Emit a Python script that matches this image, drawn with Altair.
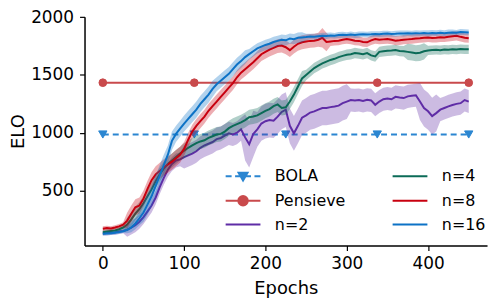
import altair as alt
import pandas as pd

# ---------------- data ----------------
epochs = list(range(0, 455, 5))

n16_mean = [125, 128, 130, 135, 140, 148, 160, 180, 215, 260,
            310, 380, 450, 540, 630, 720, 810, 930, 990, 1035,
            1080, 1120, 1160, 1200, 1250, 1290, 1330, 1380, 1420, 1450,
            1480, 1510, 1550, 1590, 1620, 1655, 1680, 1705, 1730, 1745,
            1760, 1770, 1785, 1795, 1805, 1800, 1815, 1810, 1822, 1825,
            1828, 1832, 1830, 1836, 1840, 1838, 1842, 1840, 1845, 1848,
            1846, 1850, 1845, 1850, 1853, 1850, 1852, 1855, 1853, 1856,
            1858, 1855, 1857, 1860, 1858, 1861, 1858, 1862, 1860, 1863,
            1860, 1864, 1862, 1865, 1862, 1866, 1868, 1865, 1872, 1870,
            1868]
n16_band = [15, 15, 15, 15, 15, 15, 30, 40, 50, 60,
            80, 90, 90, 90, 90, 90, 80, 80, 70, 70,
            70, 70, 70, 70, 70, 70, 70, 70, 60, 60,
            60, 60, 60, 60, 60, 60, 45, 45, 45, 45,
            45, 45, 45, 45, 45, 45, 45, 45, 45, 45,
            28, 25, 26, 24, 25, 27, 25, 24, 26, 25,
            24, 26, 25, 27, 24, 25, 26, 24, 25, 26,
            25, 24, 26, 25, 27, 24, 25, 26, 25, 24,
            26, 25, 24, 26, 25, 27, 25, 24, 26, 25,
            25]

n8_mean = [170, 175, 172, 180, 190, 205, 240, 300, 355, 370,
           430, 515, 590, 640, 670, 700, 725, 750, 780, 810,
           860, 940, 1010, 1060, 1100, 1140, 1190, 1230, 1270, 1310,
           1350, 1390, 1430, 1480, 1520, 1550, 1580, 1610, 1645, 1680,
           1700, 1720, 1735, 1750, 1755, 1740, 1715, 1745, 1770, 1783,
           1790, 1795, 1797, 1805, 1822, 1785, 1790, 1795, 1797, 1805,
           1811, 1805, 1797, 1795, 1785, 1783, 1800, 1811, 1805, 1808,
           1811, 1805, 1797, 1800, 1805, 1808, 1811, 1815, 1818, 1822,
           1825, 1820, 1822, 1826, 1825, 1830, 1835, 1839, 1830, 1822,
           1818]
n8_band = [20, 20, 20, 20, 20, 20, 70, 70, 70, 70,
           70, 70, 70, 70, 70, 70, 70, 70, 70, 70,
           60, 60, 60, 60, 60, 60, 60, 60, 60, 60,
           60, 60, 60, 60, 60, 60, 60, 60, 60, 60,
           60, 60, 60, 60, 60, 60, 60, 60, 60, 60,
           60, 60, 60, 60, 85, 80, 40, 40, 40, 40,
           40, 40, 40, 40, 40, 40, 40, 40, 40, 40,
           40, 40, 40, 40, 40, 40, 40, 40, 40, 40,
           40, 40, 40, 40, 40, 40, 40, 40, 40, 40,
           40]

n4_mean = [140, 145, 150, 155, 165, 180, 205, 250, 300, 340,
           390, 450, 510, 580, 640, 690, 730, 760, 790, 820,
           845, 870, 890, 910, 925, 935, 955, 970, 985, 990,
           1010, 1040, 1060, 1075, 1090, 1110, 1135, 1140, 1150, 1170,
           1190, 1205, 1230, 1245, 1215, 1220, 1270, 1330, 1400, 1470,
           1500, 1530, 1560, 1580, 1600, 1615, 1630, 1640, 1655, 1665,
           1675, 1680, 1690, 1685, 1680, 1690, 1670, 1660, 1700, 1705,
           1710, 1712, 1716, 1708, 1705, 1700, 1695, 1688, 1692, 1705,
           1712, 1716, 1718, 1715, 1720, 1718, 1722, 1720, 1724, 1722,
           1722]
n4_band = [20, 20, 20, 20, 20, 20, 60, 60, 60, 60,
           60, 60, 60, 60, 60, 60, 60, 60, 60, 60,
           65, 65, 65, 65, 65, 65, 65, 65, 65, 65,
           65, 65, 65, 65, 65, 65, 65, 65, 65, 65,
           65, 65, 65, 65, 65, 65, 65, 65, 65, 65,
           45, 45, 45, 45, 45, 45, 45, 45, 45, 45,
           45, 45, 45, 45, 45, 45, 45, 45, 45, 45,
           45, 45, 45, 45, 45, 70, 70, 70, 70, 70,
           40, 40, 40, 40, 40, 40, 40, 40, 40, 40,
           40]

n2_mean = [130, 132, 135, 138, 145, 150, 160, 180, 200, 230,
           270, 320, 370, 440, 530, 610, 680, 730, 760, 770,
           790, 805, 820, 840, 870, 890, 905, 920, 945, 955,
           975, 995, 985, 1000, 1030, 960, 900, 990, 1030, 1080,
           1100, 1110, 1105, 1140, 1180, 1200, 1060, 995, 1060, 1130,
           1150, 1175, 1185, 1200, 1214, 1214, 1222, 1228, 1235, 1256,
           1270, 1283, 1280, 1283, 1275, 1285, 1280, 1242, 1270, 1290,
           1297, 1290, 1311, 1305, 1300, 1315, 1320, 1325, 1270, 1214,
           1186, 1144, 1170, 1200, 1214, 1228, 1240, 1250, 1256, 1283,
           1270]
n2_band = [20, 20, 20, 20, 20, 20, 60, 60, 60, 60,
           60, 60, 60, 60, 60, 60, 60, 60, 60, 60,
           100, 100, 100, 100, 100, 100, 100, 100, 100, 100,
           100, 100, 100, 100, 100, 200, 200, 200, 150, 150,
           150, 150, 150, 150, 150, 150, 150, 150, 150, 150,
           150, 150, 150, 150, 150, 150, 150, 150, 150, 150,
           150, 100, 100, 100, 100, 100, 100, 100, 100, 100,
           100, 100, 100, 100, 100, 100, 100, 100, 160, 160,
           160, 160, 160, 100, 100, 100, 100, 100, 100, 100,
           100]

baseline_epochs = [0, 112.5, 225, 337.5, 450]
bola_elo = [985, 985, 985, 985, 985]
pensieve_elo = [1433, 1433, 1433, 1433, 1433]

# legend order (filled column by column, 2 columns) and colours
legend_order = ["BOLA", "Pensieve", "n=2", "n=4", "n=8", "n=16"]
legend_colors = ["#2b86d1", "#c94a4c", "#5f2ca6", "#0b6b57", "#c8000f", "#0c72c6"]
legend_paths = [
    "M-3.5,0H-2.3M-1.6,0H-0.6M0.6,0H1.6M2.3,0H3.5M-0.9,-0.7L0.9,-0.7L0,0.85Z",
    "M-3.5,0H3.5M-0.95,0A0.95,0.95 0 1,0 0.95,0A0.95,0.95 0 1,0 -0.95,0Z",
    "M-3.5,0H3.5",
    "M-3.5,0H3.5",
    "M-3.5,0H3.5",
    "M-3.5,0H3.5",
]

# ---------------- tables ----------------
curves = {"n=2": (n2_mean, n2_band), "n=4": (n4_mean, n4_band),
          "n=8": (n8_mean, n8_band), "n=16": (n16_mean, n16_band)}
rows = []
for name, (m, b) in curves.items():
    for e, v, w in zip(epochs, m, b):
        rows.append({"epoch": e, "series": name, "elo": v, "lo": v - w, "hi": v + w})
curve_df = pd.DataFrame(rows)

base_rows = []
for e, v in zip(baseline_epochs, bola_elo):
    base_rows.append({"epoch": e, "series": "BOLA", "elo": v})
for e, v in zip(baseline_epochs, pensieve_elo):
    base_rows.append({"epoch": e, "series": "Pensieve", "elo": v})
base_df = pd.DataFrame(base_rows)

# ---------------- scales / axes ----------------
fill_scale = alt.Scale(domain=legend_order, range=legend_colors)
stroke_scale = alt.Scale(domain=legend_order, range=legend_colors)
shape_scale = alt.Scale(domain=legend_order, range=legend_paths)

x_enc = alt.X("epoch:Q", scale=alt.Scale(domain=[-22.5, 472.5], nice=False, zero=False),
              axis=alt.Axis(title="Epochs", values=[0, 100, 200, 300, 400]))
y_axis = alt.Axis(title="ELO", values=[500, 1000, 1500, 2000], format="d")
y_scale = alt.Scale(domain=[25, 2003], nice=False, zero=False)

legend_obj = alt.Legend(
    title=None, orient="none", legendX=142, legendY=152, columns=2,
    columnPadding=43, rowPadding=7, symbolSize=100, symbolStrokeWidth=2,
    symbolOpacity=1, symbolOffset=9.5, labelOffset=24, labelFontSize=16,
    labelFont="DejaVu Sans", labelColor="black", padding=0, labelLimit=300,
)

base = alt.Chart(base_df)
layers = []

# legend-only layer (no visible marks); first so that its legend wins the merge
layers.append(base.transform_filter("datum.epoch < 0").mark_point(
    filled=True, opacity=1).encode(
    x=x_enc, y=alt.Y("elo:Q", scale=y_scale, axis=y_axis),
    fill=alt.Fill("series:N", scale=fill_scale, legend=legend_obj),
    stroke=alt.Stroke("series:N", scale=stroke_scale, legend=legend_obj),
    shape=alt.Shape("series:N", scale=shape_scale, legend=legend_obj)))

layers.append(base.transform_filter("datum.series == 'BOLA'").mark_line(
    strokeWidth=2, strokeDash=[6, 4]).encode(
    x=x_enc, y=alt.Y("elo:Q", scale=y_scale, axis=y_axis),
    stroke=alt.Stroke("series:N", scale=stroke_scale, legend=None)))
layers.append(base.transform_filter("datum.series == 'Pensieve'").mark_line(
    strokeWidth=2).encode(
    x=x_enc, y=alt.Y("elo:Q", scale=y_scale, axis=y_axis),
    stroke=alt.Stroke("series:N", scale=stroke_scale, legend=None)))
layers.append(base.transform_filter("datum.series == 'BOLA'").mark_point(
    shape="triangle-down", filled=True, size=70, opacity=1, strokeWidth=1).encode(
    x=x_enc, y=alt.Y("elo:Q", scale=y_scale, axis=y_axis),
    fill=alt.Fill("series:N", scale=fill_scale, legend=None),
    stroke=alt.Stroke("series:N", scale=stroke_scale, legend=None)))
layers.append(base.transform_filter("datum.series == 'Pensieve'").mark_point(
    shape="circle", filled=True, size=60, opacity=1, strokeWidth=1).encode(
    x=x_enc, y=alt.Y("elo:Q", scale=y_scale, axis=y_axis),
    fill=alt.Fill("series:N", scale=fill_scale, legend=None),
    stroke=alt.Stroke("series:N", scale=stroke_scale, legend=None)))

for name in ["n=2", "n=4", "n=8", "n=16"]:
    sub = alt.Chart(curve_df).transform_filter(alt.datum.series == name)
    layers.append(sub.mark_area(opacity=0.32).encode(
        x=x_enc, y=alt.Y("lo:Q", scale=y_scale, axis=y_axis), y2="hi:Q",
        fill=alt.Fill("series:N", scale=fill_scale, legend=None)))
    layers.append(sub.mark_line(strokeWidth=2).encode(
        x=x_enc, y=alt.Y("elo:Q", scale=y_scale, axis=y_axis),
        stroke=alt.Stroke("series:N", scale=stroke_scale, legend=None)))

chart = alt.layer(*layers).properties(
    width=405, height=230,
    padding={"left": 77, "top": 8, "right": 5, "bottom": 54},
    autosize=alt.AutoSizeParams(type="none"),
).configure_view(stroke=None).configure_axis(
    grid=False, domainColor="black", domainWidth=1.5, tickColor="black",
    tickWidth=1.2, tickSize=5, labelColor="black", titleColor="black",
    labelFont="DejaVu Sans", titleFont="DejaVu Sans", titleFontWeight="normal",
    labelFontSize=17, titleFontSize=18,
).configure_axisY(labelPadding=6, titlePadding=3).configure_axisX(
    labelPadding=5, titlePadding=8)

chart.save("out.html", embed_options={"renderer": "svg", "actions": False})
